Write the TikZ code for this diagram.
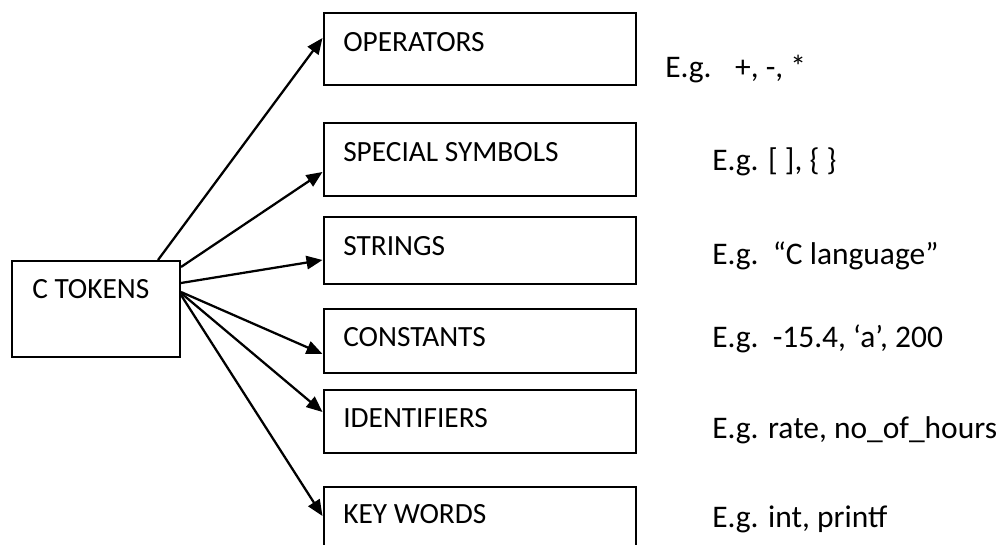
\documentclass[tikz,border=0pt]{standalone}
\usepackage{fontspec}
\setmainfont{Carlito}
\usetikzlibrary{arrows.meta,calc}
\begin{document}
\begin{tikzpicture}[x=0.75pt,y=-0.75pt,
  box/.style={draw,line width=1.5pt,rectangle,inner sep=0pt,anchor=north west,minimum width=234.4pt},
  lbl/.style={anchor=base west,inner sep=0pt,font=\fontsize{22pt}{26pt}\selectfont},
  ex/.style={anchor=base west,inner sep=0pt,font=\fontsize{23.6pt}{28pt}\selectfont},
  conn/.style={line width=1.7pt,-{Triangle[length=12pt,width=10pt]}}]
  \clip (0,0) rectangle (1001,545);
  \useasboundingbox (0,0) rectangle (1001,545);

  % root box
  \node[box,minimum width=126pt,minimum height=72pt] (ct) at (11,260) {};
  \node[lbl] (ctl) at ($(ct.north west)+(21,39)$) {C TOKENS};

  % token category boxes
  \node[box,minimum height=54pt]    (op) at (322.5,12)  {};
  \node[box,minimum height=54.75pt] (sp) at (322.5,122) {};
  \node[box,minimum height=50.25pt] (st) at (322.5,216) {};
  \node[box,minimum height=48pt]    (co) at (322.5,308) {};
  \node[box,minimum height=47.25pt] (id) at (322.5,389) {};
  \node[box,minimum height=60pt]    (kw) at (322.5,486) {};

  \node[lbl] (opl) at ($(op.north west)+(20.5,40)$) {OPERATORS};
  \node[lbl] (spl) at ($(sp.north west)+(20.5,40)$) {SPECIAL SYMBOLS};
  \node[lbl] (stl) at ($(st.north west)+(20.5,40)$) {STRINGS};
  \node[lbl] (col) at ($(co.north west)+(20.5,39)$) {CONSTANTS};
  \node[lbl] (idl) at ($(id.north west)+(20.5,39)$) {IDENTIFIERS};
  \node[lbl] (kwl) at ($(kw.north west)+(20.5,38)$) {KEY WORDS};

  % examples
  \node[ex] (ope) at (665,78)  {E.g.\hspace{0.75em}+, -, *};
  \node[ex] (spe) at (712,171) {E.g. [ ], \{ \}};
  \node[ex] (ste) at (712,265) {E.g.\hspace{0.45em}“C language”};
  \node[ex] (coe) at (712,348) {E.g.\hspace{0.45em}-15.4, ‘a’, 200};
  \node[ex] (ide) at (712,439) {E.g. rate, no\_of\_hours};
  \node[ex] (kwe) at (712,528) {E.g. int, printf};

  % connectors
  \draw[conn] ($(ct.north west)+(147,0)$) -- ($(op.north west)+(0,26)$);
  \draw[conn] ($(ct.north east)+(0,7)$)   -- ($(sp.north west)+(0,50)$);
  \draw[conn] ($(ct.north east)+(0,23)$)  -- ($(st.north west)+(0,44)$);
  \draw[conn] ($(ct.north east)+(0,32)$)  -- ($(co.north west)+(0,46)$);
  \draw[conn] ($(ct.north east)+(0,33)$)  -- ($(id.north west)+(0,23)$);
  \draw[conn] ($(ct.north east)+(0,35)$)  -- ($(kw.north west)+(0,30)$);
\end{tikzpicture}
\end{document}
